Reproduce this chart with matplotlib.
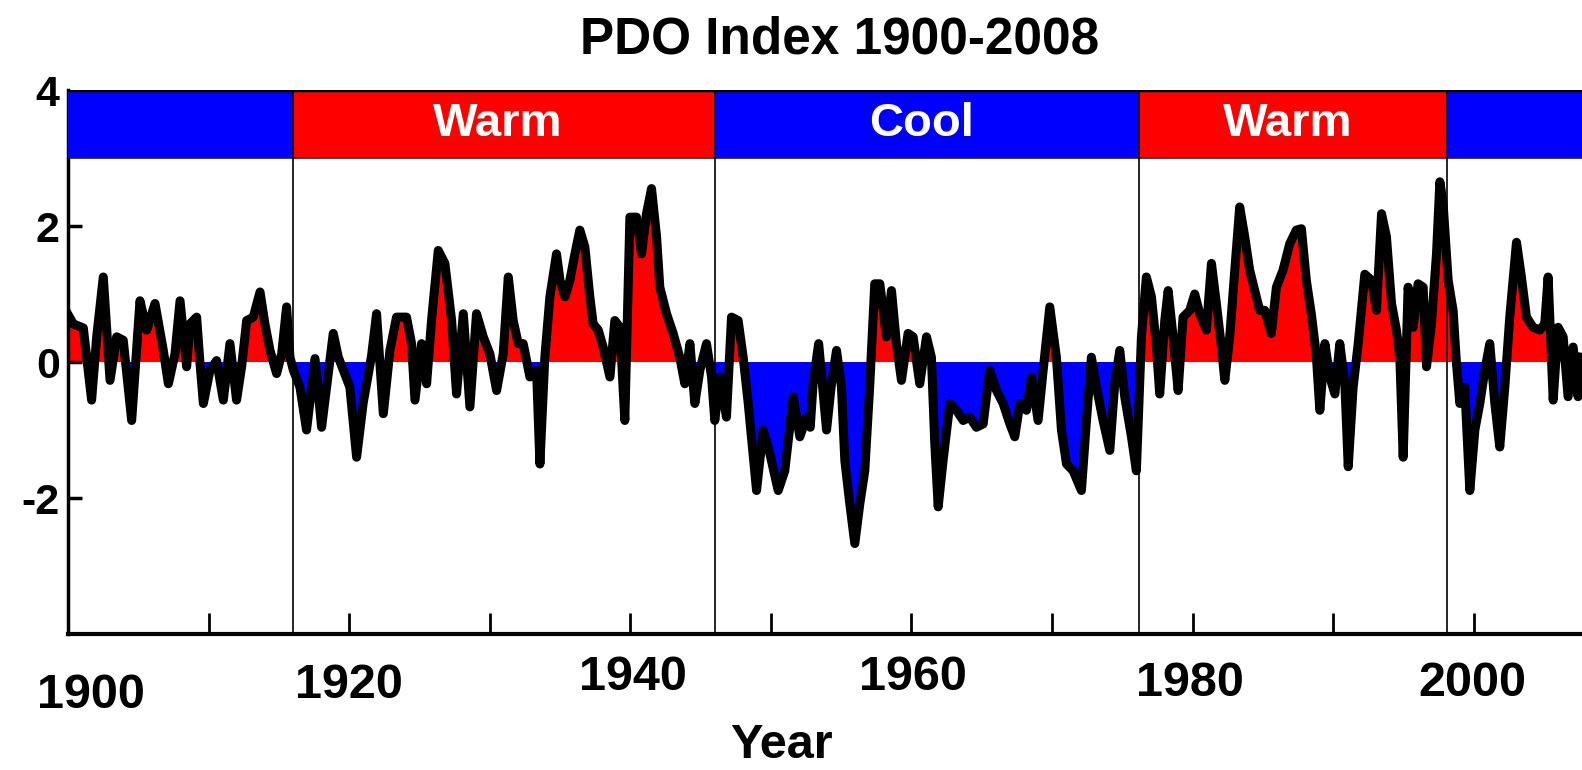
import numpy as np
import matplotlib
matplotlib.use('Agg')
import matplotlib.pyplot as plt
from matplotlib.patches import Rectangle
from matplotlib import transforms

plt.rcParams['font.family'] = ['Liberation Sans', 'DejaVu Sans']

# PDO index (year, value)
years = [1900.00, 1900.38, 1901.09, 1901.68, 1902.04, 1902.51, 1902.99, 1903.46, 1903.93, 1904.53,
         1905.12, 1905.60, 1906.19, 1906.78, 1907.14, 1907.61, 1907.97, 1908.44, 1908.68, 1909.15,
         1909.39, 1909.63, 1910.10, 1910.57, 1911.05, 1911.52, 1911.99, 1912.35, 1912.71, 1913.18,
         1913.66, 1914.01, 1914.37, 1914.84, 1915.20, 1915.55, 1915.79, 1916.03, 1916.50, 1916.97,
         1917.57, 1918.04, 1918.50, 1918.87, 1919.23, 1920.05, 1920.53, 1921.00, 1921.60, 1921.95,
         1922.43, 1922.90, 1923.37, 1924.08, 1924.44, 1924.68, 1925.15, 1925.51, 1925.86, 1926.34,
         1926.81, 1927.29, 1927.64, 1928.12, 1928.59, 1929.06, 1929.54, 1930.01, 1930.49, 1930.96,
         1931.32, 1931.67, 1932.03, 1932.38, 1932.86, 1933.33, 1933.57, 1933.92, 1934.28, 1934.75,
         1935.00, 1935.35, 1935.70, 1936.06, 1936.41, 1936.77, 1937.12, 1937.36, 1937.72, 1938.07,
         1938.55, 1938.90, 1939.26, 1939.61, 1939.97, 1940.44, 1940.80, 1941.15, 1941.51, 1941.87,
         1942.10, 1942.58, 1943.05, 1943.52, 1943.88, 1944.24, 1944.59, 1944.95, 1945.42, 1945.78,
         1946.01, 1946.37, 1946.84, 1947.20, 1947.67, 1948.03, 1948.39, 1948.98, 1949.45, 1949.93,
         1950.52, 1950.99, 1951.59, 1952.06, 1952.53, 1952.80, 1953.01, 1953.40, 1953.96, 1954.31,
         1954.67, 1955.02, 1955.26, 1955.61, 1955.97, 1956.33, 1956.68, 1957.04, 1957.39, 1957.75,
         1958.22, 1958.58, 1958.93, 1959.29, 1959.76, 1960.12, 1960.59, 1961.07, 1961.42, 1961.66,
         1961.90, 1962.25, 1962.73, 1963.20, 1963.68, 1964.15, 1964.62, 1965.10, 1965.57, 1966.05,
         1966.52, 1967.00, 1967.35, 1967.71, 1968.18, 1968.54, 1969.01, 1969.37, 1969.84, 1970.31,
         1970.67, 1971.03, 1971.50, 1972.09, 1972.45, 1972.80, 1973.16, 1973.63, 1974.11, 1974.46,
         1974.82, 1975.17, 1975.65, 1976.00, 1976.36, 1976.71, 1977.07, 1977.43, 1977.66, 1978.02,
         1978.26, 1978.61, 1978.97, 1979.32, 1979.80, 1980.15, 1980.51, 1980.98, 1981.34, 1981.69,
         1982.05, 1982.29, 1982.64, 1983.00, 1983.35, 1983.71, 1984.06, 1984.42, 1984.77, 1985.13,
         1985.60, 1985.96, 1986.43, 1986.91, 1987.38, 1987.74, 1988.09, 1988.45, 1988.80, 1989.05,
         1989.41, 1989.76, 1990.12, 1990.47, 1990.83, 1991.07, 1991.42, 1991.78, 1992.25, 1992.73,
         1993.08, 1993.44, 1993.79, 1994.15, 1994.50, 1994.74, 1994.98, 1995.33, 1995.69, 1996.04,
         1996.40, 1996.64, 1996.99, 1997.35, 1997.59, 1997.82, 1998.18, 1998.53, 1998.77, 1999.01,
         1999.36, 1999.72, 2000.08, 2000.43, 2000.79, 2001.14, 2001.50, 2001.85, 2002.21, 2002.56,
         2003.04, 2003.39, 2003.75, 2004.22, 2004.70, 2005.05, 2005.29, 2005.65, 2006.00, 2006.36,
         2006.71, 2007.07, 2007.42, 2007.69]
pdo = [0.70, 0.56, 0.50, -0.56, 0.37, 1.25, -0.27, 0.37, 0.32, -0.86,
       0.90, 0.47, 0.86, 0.17, -0.32, 0.12, 0.90, -0.07, 0.56, 0.66,
       -0.02, -0.61, -0.12, 0.02, -0.56, 0.27, -0.56, -0.07, 0.61, 0.66,
       1.03, 0.56, 0.17, -0.17, 0.12, 0.81, 0.07, -0.12, -0.37, -1.00,
       0.05, -0.96, -0.20, 0.42, 0.07, -0.37, -1.40, -0.60, 0.10, 0.71,
       -0.76, 0.17, 0.66, 0.66, 0.27, -0.56, 0.27, -0.32, 0.61, 1.64,
       1.45, 0.61, -0.47, 0.71, -0.66, 0.71, 0.37, 0.12, -0.42, 0.12,
       1.25, 0.61, 0.27, 0.27, -0.22, -0.12, -1.50, 0.07, 0.96, 1.59,
       1.20, 0.96, 1.20, 1.59, 1.94, 1.69, 0.96, 0.56, 0.47, 0.22,
       -0.22, 0.61, 0.51, -0.86, 2.13, 2.13, 1.59, 2.18, 2.55, 1.84,
       1.10, 0.71, 0.42, 0.07, -0.32, 0.27, -0.61, -0.12, 0.27, -0.22,
       -0.86, -0.22, -0.81, 0.66, 0.61, 0.07, -0.61, -1.89, -1.00, -1.35,
       -1.89, -1.60, -0.51, -1.10, -0.81, -0.96, -0.30, 0.27, -1.00, -0.32,
       0.17, -0.37, -1.45, -2.08, -2.67, -2.08, -1.60, -0.32, 1.15, 1.15,
       0.37, 1.05, 0.27, -0.27, 0.42, 0.37, -0.32, 0.37, 0.07, -1.20,
       -2.13, -1.45, -0.61, -0.71, -0.86, -0.81, -0.96, -0.91, -0.12, -0.42,
       -0.61, -0.91, -1.10, -0.61, -0.71, -0.22, -0.86, -0.12, 0.81, 0.07,
       -1.00, -1.50, -1.60, -1.89, -0.86, 0.07, -0.37, -0.86, -1.30, -0.32,
       0.17, -0.51, -1.10, -1.60, 0.37, 1.25, 0.96, 0.22, -0.47, 0.61,
       1.05, 0.37, -0.42, 0.66, 0.76, 1.00, 0.71, 0.47, 1.45, 0.86,
       0.22, -0.27, 0.37, 1.35, 2.28, 1.84, 1.35, 1.05, 0.76, 0.76,
       0.42, 1.10, 1.35, 1.74, 1.94, 1.96, 1.20, 0.70, 0.10, -0.71,
       0.27, -0.22, -0.47, 0.27, -0.32, -1.54, -0.37, 0.27, 1.29, 1.20,
       0.76, 2.18, 1.84, 0.86, 0.47, 0.07, -1.40, 1.10, 0.51, 1.15,
       1.10, -0.07, 0.56, 1.59, 2.65, 2.33, 1.20, 0.76, -0.02, -0.61,
       -0.37, -1.89, -1.00, -0.61, -0.12, 0.27, -0.61, -1.25, -0.37, 0.66,
       1.76, 1.25, 0.66, 0.51, 0.47, 0.56, 1.25, -0.56, 0.51, 0.37,
       -0.51, 0.22, -0.51, 0.07]

# regimes shown in the top band
regime_edges = [1900, 1916.0, 1946.0, 1976.2, 1998.1, 2007.7]
regime_colors = ['#0000ff', '#ff0000', '#0000ff', '#ff0000', '#0000ff']
regime_labels = ['', 'Warm', 'Cool', 'Warm', '']

year_labels = ['1900', '1920', '1940', '1960', '1980', '2000']
label_years = [1900, 1920, 1940, 1960, 1980, 2000]

W, H = 1582, 770
fig = plt.figure(figsize=(W / 100, H / 100), dpi=100)
ax = fig.add_axes([68 / W, 136 / H, 1 - 68 / W, (634 - 90) / H])

x = np.array(years)
y = np.array(pdo)
ax.fill_between(x, y, 0, where=y >= 0, interpolate=True, color='#ff0000', lw=0, zorder=1)
ax.fill_between(x, y, 0, where=y <= 0, interpolate=True, color='#0000ff', lw=0, zorder=1)
ax.plot(x, y, color='black', lw=6.5, solid_joinstyle='round', zorder=3)

for i in range(len(regime_colors)):
    x0, x1 = regime_edges[i], regime_edges[i + 1]
    ax.add_patch(Rectangle((x0, 3), x1 - x0, 1, facecolor=regime_colors[i], edgecolor='none', zorder=4))
    if regime_labels[i]:
        ax.text((x0 + x1) / 2 - 0.4, 3.5, regime_labels[i], color='white', fontsize=34,
                fontweight='bold', ha='center', va='center', zorder=5)
ax.axhline(4, color='black', lw=2.5, zorder=6)
ax.axhline(3, color='#202020', lw=1.2, zorder=6)
ax.vlines(regime_edges[1:-1], -4, 4, color='black', lw=1.2, zorder=6)

ax.set_xlim(regime_edges[0], regime_edges[-1])
ax.set_ylim(-4, 4)
for s in ['top', 'right']:
    ax.spines[s].set_visible(False)
ax.spines['left'].set_linewidth(2.5)
ax.spines['bottom'].set_linewidth(3)

ax.set_xticks(np.arange(1910, 2001, 10))
ax.set_xticklabels([])
ax.tick_params(axis='x', direction='in', length=15, width=2)
ax.set_yticks([-2, 0, 2, 4])
ax.set_yticklabels(['-2', '0', '2', '4'], fontsize=31, fontweight='bold')
ax.tick_params(axis='y', direction='in', length=10, width=2.5, pad=6)
ax.yaxis.get_major_ticks()[-1].tick1line.set_visible(False)

# year labels sit at slightly staggered heights in the original
trans = transforms.blended_transform_factory(ax.transData, fig.transFigure)
label_dx = [1.6, 0, 0.2, 0.1, -0.2, -0.1]
label_top = [695, 686, 678, 678, 684, 683]
for lab, yr, dx, top in zip(year_labels, label_years, label_dx, label_top):
    ax.text(yr + dx, 1 - top / H, lab, transform=trans, fontsize=35, fontweight='bold',
            ha='center', va='center', clip_on=False)

fig.text(840 / W, 1 - 40 / H, 'PDO Index 1900-2008', fontsize=37, fontweight='bold',
         ha='center', va='center')
fig.text(781 / W, 1 - 745 / H, 'Year', fontsize=35, fontweight='bold', ha='center', va='center')

fig.savefig('out.png', dpi=100)
